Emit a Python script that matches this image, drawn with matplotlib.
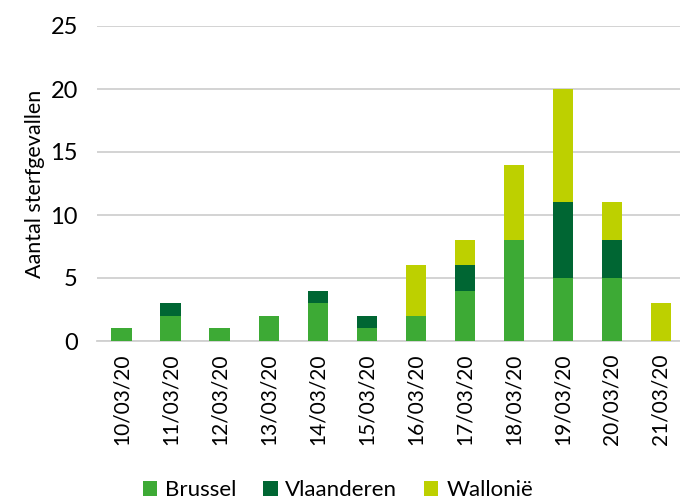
import matplotlib
matplotlib.use("Agg")
import matplotlib.pyplot as plt
import numpy as np

dates = ["10/03/20", "11/03/20", "12/03/20", "13/03/20", "14/03/20", "15/03/20",
         "16/03/20", "17/03/20", "18/03/20", "19/03/20", "20/03/20", "21/03/20"]
brussel = [1, 2, 1, 2, 3, 1, 2, 4, 8, 5, 5, 0]
vlaanderen = [0, 1, 0, 0, 1, 1, 0, 2, 0, 6, 3, 0]
wallonie = [0, 0, 0, 0, 0, 0, 4, 2, 6, 9, 3, 3]
series_names = ["Brussel", "Vlaanderen", "Wallonië"]
colors = ["#3DAA35", "#006633", "#BDD000"]

plt.rcParams['font.family'] = ['Lato', 'DejaVu Sans']

fig = plt.figure(figsize=(6.8, 5.0), dpi=100)
ax = fig.add_axes([0.143, 0.318, 0.865, 0.63])

x = np.arange(len(dates))
w = 0.42
b = np.array(brussel)
v = np.array(vlaanderen)
wl = np.array(wallonie)
ax.bar(x, b, w, color=colors[0], label=series_names[0], zorder=3)
ax.bar(x, v, w, bottom=b, color=colors[1], label=series_names[1], zorder=3)
ax.bar(x, wl, w, bottom=b + v, color=colors[2], label=series_names[2], zorder=3)

ax.set_xlim(-0.5, len(dates) - 0.5)
ax.set_ylim(0, 25)
ax.set_yticks([0, 5, 10, 15, 20, 25])
ax.yaxis.grid(True, color="#D0D0D0", linewidth=1.3, zorder=0)
ax.set_axisbelow(True)
for s in ["top", "right", "left"]:
    ax.spines[s].set_visible(False)
ax.spines["bottom"].set_color("#D0D0D0")
ax.spines["bottom"].set_linewidth(1.3)
ax.tick_params(axis="both", length=0)
ax.tick_params(axis="y", labelsize=17, pad=14, colors="#000000")
ax.set_xticks(x)
ax.set_xticklabels(dates, rotation=90, fontsize=15)
ax.tick_params(axis="x", pad=9)
ax.set_ylabel("Aantal sterfgevallen", fontsize=15.5, labelpad=4)

fig.legend(loc="lower center", bbox_to_anchor=(0.497, -0.04), ncol=3, frameon=False,
           fontsize=16, handlelength=0.65, handleheight=0.65, handletextpad=0.35,
           columnspacing=1.2)

fig.savefig("out.png", dpi=100)
